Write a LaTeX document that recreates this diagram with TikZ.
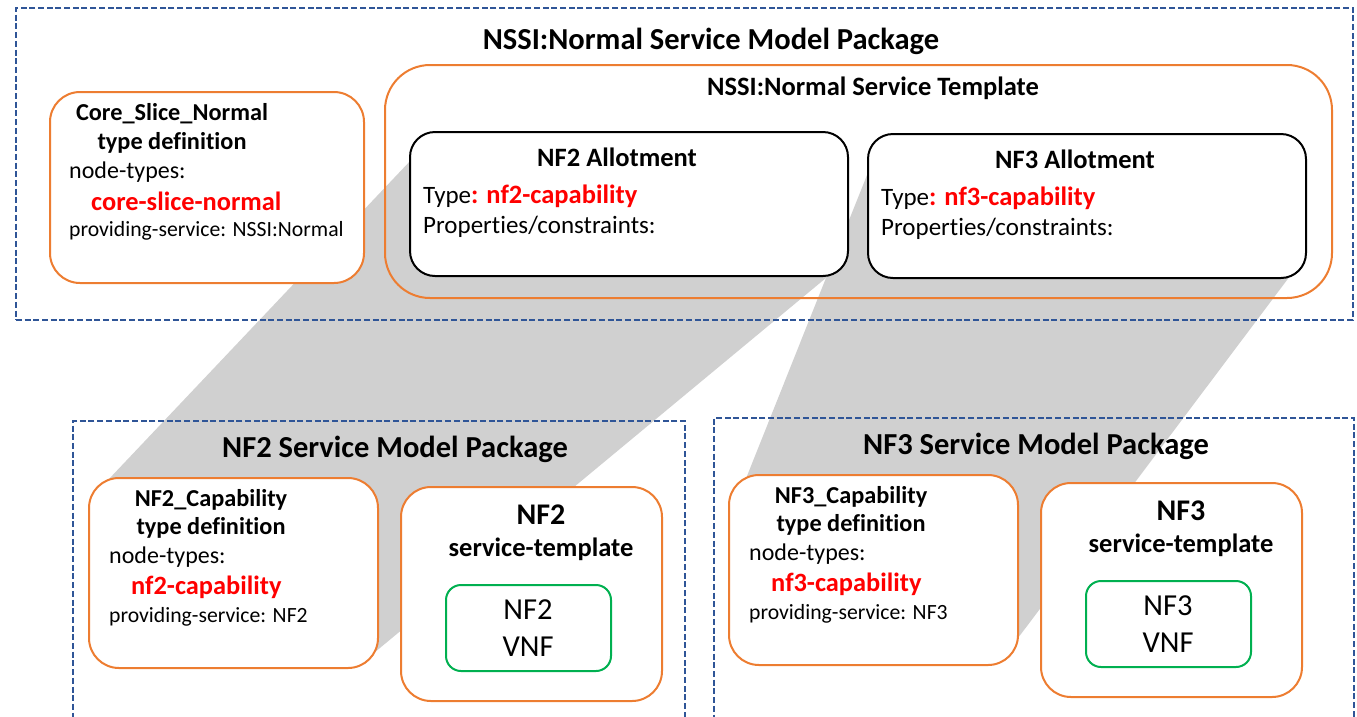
\documentclass[tikz,border=0pt]{standalone}
\usepackage{fontspec}
\setmainfont{Carlito}[Ligatures=NoCommon]
\usepackage{xcolor}
\usepackage{tikz}
\usetikzlibrary{backgrounds}
\definecolor{pkgblue}{HTML}{2F5597}
\definecolor{boxorange}{HTML}{ED7D31}
\definecolor{vnfgreen}{HTML}{00B050}
\definecolor{capred}{HTML}{FF0000}
\definecolor{projgray}{HTML}{D0D0D0}
\tikzset{
  pkgbox/.style={draw=pkgblue, line width=1.8pt, dash pattern=on 6pt off 2.7pt, anchor=north west, inner sep=0pt},
  orangebox/.style={draw=boxorange, line width=2pt, rounded corners=30pt, fill=white, anchor=north west, inner sep=0pt},
  allotbox/.style={draw=black, line width=2pt, rounded corners=25pt, fill=white, anchor=north west, inner sep=0pt},
  vnfbox/.style={draw=vnfgreen, line width=2pt, rounded corners=15pt, fill=white, anchor=north west, inner sep=0pt},
  projection/.style={fill=projgray},
  pkgtitle/.style={font=\fontsize{30.5}{34}\selectfont\bfseries, inner sep=0pt, anchor=base},
  tpltitle/.style={font=\fontsize{26.5}{30}\selectfont\bfseries, inner sep=0pt, anchor=base},
  hd/.style={font=\fontsize{24.3}{28}\selectfont\bfseries, inner sep=0pt, anchor=base},
  txt/.style={font=\fontsize{24}{28}\selectfont, inner sep=0pt, anchor=base west},
  redtxt/.style={font=\fontsize{26.4}{30}\selectfont\bfseries, text=capred, inner sep=0pt, anchor=base west},
  smalltxt/.style={font=\fontsize{21.7}{25}\selectfont, inner sep=0pt, anchor=base west},
  sthd/.style={font=\fontsize{30}{34}\selectfont\bfseries, inner sep=0pt, anchor=base},
  vnftxt/.style={font=\fontsize{30.5}{34}\selectfont, inner sep=0pt, anchor=base},
}
\begin{document}
\begin{tikzpicture}[x=1pt,y=-1pt]
  \useasboundingbox (0,0) rectangle (1357,716);
  % NSSI package
  \node[pkgbox, minimum width=1337pt, minimum height=312pt] (nssipkg) at (15,7) {};
  \node[pkgtitle] (nssititle) at (711,49.8) {NSSI:Normal Service Model Package};
  \node[orangebox, minimum width=314pt, minimum height=191pt] (core) at (49,91) {};
  \node[hd] (corename) at (172,120.8) {Core\_Slice\_Normal};
  \node[hd] (coretype) at (172,149.8) {type definition};
  \node[txt] (corenodes) at (69,178.6) {node-types:};
  \node[redtxt] (corered) at (91,210.4) {core-slice-normal};
  \node[smalltxt] (coreprov) at (69,236.9) {providing-service: NSSI:Normal};
  \node[orangebox, rounded corners=45pt, fill=none, minimum width=947pt, minimum height=233pt] (tpl) at (384,64) {};
  \node[tpltitle] (tpltitle) at (873,95.5) {NSSI:Normal Service Template};
  \foreach \nf/\ax/\ay in {2/409/131, 3/867/133}{
    \node[allotbox, minimum width=438pt, minimum height=144pt] (allot\nf) at (\ax,\ay) {};
    \node[tpltitle] (allot\nf name) at (\ax+208,\ay+35.6) {NF\nf\ Allotment};
    \node[txt, font=\fontsize{25}{29}\selectfont] (allot\nf type) at (\ax+14,\ay+72.7) {Type\textcolor{capred}{\fontsize{26.5}{30}\selectfont\bfseries: nf\nf-capability}};
    \node[txt, font=\fontsize{25}{29}\selectfont] (allot\nf prop) at (\ax+14,\ay+102.7) {Properties/constraints:};
  }
  % NF packages
  \foreach \nf/\px/\py/\pw/\cx/\cy/\sx/\sy in {2/72/420/612/88/477/400/486, 3/713/417/640/728/474/1040/482}{
    \node[pkgbox, minimum width=\pw pt, minimum height=320pt] (pkg\nf) at (\px,\py) {};
    \node[pkgtitle] (pkg\nf title) at (\px+323,\py+37.8) {NF\nf\ Service Model Package};
    \node[orangebox, minimum width=289pt, minimum height=190pt] (cap\nf) at (\cx,\cy) {};
    \node[hd] (cap\nf name) at (\cx+123,\cy+29.8) {NF\nf\_Capability};
    \node[hd] (cap\nf type) at (\cx+123,\cy+57.8) {type definition};
    \node[txt] (cap\nf nodes) at (\cx+21,\cy+86.6) {node-types:};
    \node[redtxt] (cap\nf red) at (\cx+43,\cy+117.4) {nf\nf-capability};
    \node[smalltxt] (cap\nf prov) at (\cx+21,\cy+145.9) {providing-service: NF\nf};
    \node[orangebox, minimum width=261pt, minimum height=214pt] (st\nf) at (\sx,\sy) {};
    \node[sthd] (st\nf name) at (\sx+141,\sy+38.6) {NF\nf};
    \node[tpltitle] (st\nf sub) at (\sx+141,\sy+70.5) {service-template};
    \node[vnfbox, minimum width=165pt, minimum height=86pt] (vnf\nf) at (\sx+45,\sy+98) {};
    \node[vnftxt] (vnf\nf name) at (\sx+128,\sy+133.8) {NF\nf};
    \node[vnftxt] (vnf\nf kind) at (\sx+128,\sy+170.8) {VNF};
  }
  \begin{scope}[on background layer]
    \fill[projection] (108,480) -- (430,140) -- (838,268) -- (357,667) -- cycle;
    \fill[projection] (747,476) -- (877,150) -- (1293,272) -- (1003,658) -- cycle;
  \end{scope}
\end{tikzpicture}
\end{document}
